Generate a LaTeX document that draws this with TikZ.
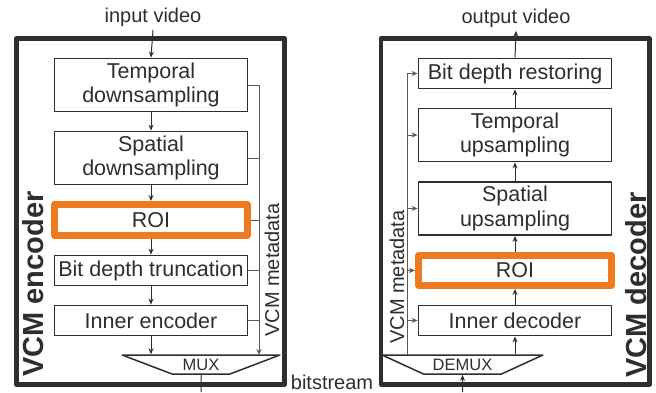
\documentclass[tikz,border=0pt]{standalone}
\usepackage{fontspec}
\setmainfont{Liberation Sans}
\usetikzlibrary{arrows.meta,shapes.geometric}
\definecolor{ink}{HTML}{2E2E2E}
\definecolor{roi}{HTML}{EE7B22}
\definecolor{metagray}{HTML}{5A5A5A}
\begin{document}
\begin{tikzpicture}[x=1pt,y=-1pt,line join=round,>={Stealth[length=6pt,width=5pt]},
    font=\fontsize{21.5}{24.5}\selectfont,text=ink]
    \tikzset{block/.style={draw=ink,line width=1.8pt,minimum width=193,align=center,inner sep=0pt},
        tall/.style={block,minimum height=53},
        flat/.style={block,minimum height=30},
        roibox/.style={block,draw=roi,line width=7pt,minimum height=31},
        frame/.style={draw=ink,line width=4.5pt},
        flow/.style={draw=ink,line width=1pt,->},
        meta/.style={draw=metagray,line width=.8pt},
        mux/.style={trapezium,draw=ink,line width=1.5pt,trapezium stretches=true,
            shape border rotate=180,trapezium angle=20,minimum height=19,inner sep=0pt,
            font=\fontsize{16.5}{18}\selectfont},
        side/.style={rotate=90,font=\fontsize{29}{31}\bfseries},
        label style/.style={font=\fontsize{20}{22}\selectfont}}
    \useasboundingbox (0,0) rectangle (656,392);
    % encoder side
    \draw[frame] (16.5,38.5) rectangle (284.5,384.5);
    \node[label style] (vin) at (153,17) {input video};
    \node[tall] (tds) at (151,85) {Temporal\\downsampling};
    \node[tall] (sds) at (151,158) {Spatial\\downsampling};
    \node[roibox] (roie) at (151,220) {ROI};
    \node[flat] (bdt) at (151,270.5) {Bit depth truncation};
    \node[flat] (ienc) at (151,320.5) {Inner encoder};
    \node[mux,minimum width=158] (mux) at (201,364.5) {MUX};
    \node[side] (enc) at (33,284) {VCM encoder};
    \node[label style,rotate=90] (emeta) at (272,270) {VCM metadata};
    \coordinate (ebus) at (259,355);
    \draw[flow] (vin.south) -- (tds.north);
    \draw[flow] (tds) -- (sds);
    \draw[flow] (sds) -- (roie);
    \draw[flow] (roie) -- (bdt);
    \draw[flow] (bdt) -- (ienc);
    \draw[flow] (ienc.south) -- (ienc.south |- mux.north);
    \draw[meta,->] (tds.east) -| (ebus);
    \foreach \b in {sds,roie,bdt,ienc}
        \draw[meta] (\b.east) -- (\b.east -| ebus);
    % bitstream between the two sides
    \coordinate (bsout) at (201,392);
    \coordinate (bsin) at (462.5,392);
    \draw[line width=1pt,draw=ink] (mux.south) -- (bsout);
    \node[label style] (bs) at (332,382) {bitstream};
    % decoder side
    \draw[frame] (381,38.5) rectangle (649.5,384.5);
    \node[label style] (vout) at (516,18) {output video};
    \node[flat] (bdr) at (515,73.5) {Bit depth restoring};
    \node[tall] (tus) at (515,135) {Temporal\\upsampling};
    \node[tall] (sus) at (515,208.5) {Spatial\\upsampling};
    \node[roibox,minimum height=30] (roid) at (515,270.5) {ROI};
    \node[flat] (idec) at (515,320.5) {Inner decoder};
    \node[mux,minimum width=161] (demux) at (462.5,364.5) {DEMUX};
    \node[side] (dec) at (636,285) {VCM decoder};
    \node[label style,rotate=90] (dmeta) at (397,277) {VCM metadata};
    \coordinate (dbus) at (407,355);
    \draw[flow] (bsin) -- (demux.south);
    \draw[flow] (idec.south |- demux.north) -- (idec.south);
    \draw[flow] (idec) -- (roid);
    \draw[flow] (roid) -- (sus);
    \draw[flow] (sus) -- (tus);
    \draw[flow] (tus) -- (bdr);
    \draw[flow] (bdr.north) -- (vout.south);
    \draw[meta,->] (dbus) |- (bdr.west);
    \foreach \b in {tus,sus,roid,idec}
        \draw[meta,->] (\b.west -| dbus) -- (\b.west);
\end{tikzpicture}
\end{document}
